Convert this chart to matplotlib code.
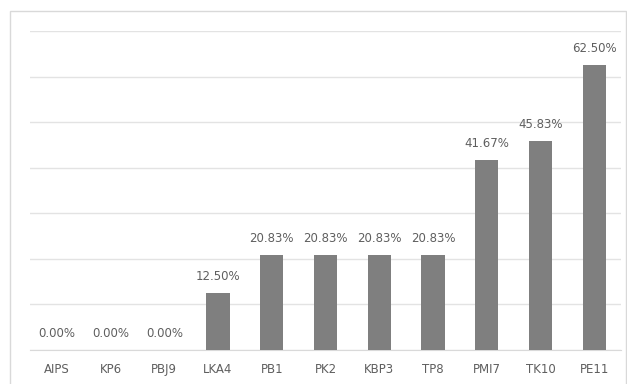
import matplotlib
matplotlib.use('Agg')
import matplotlib.pyplot as plt
from matplotlib.patches import Rectangle

# category names and share values (percent)
sites = ['AIPS', 'KP6', 'PBJ9', 'LKA4', 'PB1', 'PK2', 'KBP3', 'TP8', 'PMI7', 'TK10', 'PE11']
shares = [0.00, 0.00, 0.00, 12.50, 20.83, 20.83, 20.83, 20.83, 41.67, 45.83, 62.50]

W, H = 627, 384
fig = plt.figure(figsize=(W / 100, H / 100), dpi=100)

# light frame round the chart area
fig.patches.append(Rectangle((10 / W, -0.01), 616 / W, (H - 11) / H + 0.01,
                             transform=fig.transFigure, fill=False,
                             edgecolor='#d9d9d9', linewidth=1.0))

ax = fig.add_axes([30 / W, (H - 350) / H, 591 / W, 319 / H])

x = range(len(sites))
ax.bar(x, shares, width=0.43, color='#7f7f7f', zorder=3)

for i, v in enumerate(shares):
    ax.text(i, v + 2.2, '{:.2f}%'.format(v), ha='center', va='bottom',
            fontsize=8.5, color='#5f5f5f')

ax.set_xlim(-0.5, len(sites) - 0.5)
ax.set_ylim(0, 70)
ax.set_yticks(range(0, 71, 10))
ax.set_yticklabels([])
ax.tick_params(axis='y', length=0)
ax.grid(axis='y', color='#e3e3e3', linewidth=1.0, zorder=0)

ax.set_xticks(list(x))
ax.set_xticklabels(sites, fontsize=8.5, color='#5f5f5f')
ax.tick_params(axis='x', length=0, pad=9.5)

for side in ['top', 'right', 'left']:
    ax.spines[side].set_visible(False)
ax.spines['bottom'].set_color('#d9d9d9')

plt.savefig('out.png', dpi=100)
